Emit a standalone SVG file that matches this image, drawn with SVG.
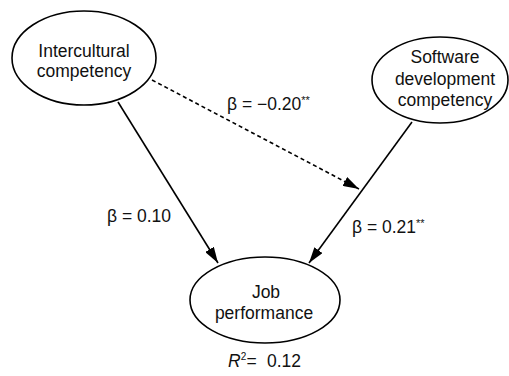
<svg xmlns="http://www.w3.org/2000/svg" width="509" height="376" viewBox="0 0 509 376">
  <defs>
    <marker id="arrow" viewBox="0 0 16 10" refX="16" refY="5" markerWidth="16" markerHeight="10" markerUnits="userSpaceOnUse" orient="auto">
      <path d="M0,0 L16,5 L0,10 Z" fill="#000"/>
    </marker>
    <style>
      .node ellipse { fill: #fff; stroke: #000; stroke-width: 1.6; }
      text { font-family: "Liberation Sans", Arial, sans-serif; font-size: 17.5px; fill: #111; }
      .c { text-anchor: middle; }
      .edge { stroke: #000; stroke-width: 1.6; fill: none; }
      .dash { stroke-dasharray: 4 3; }
    </style>
  </defs>

  <g id="connectors">
    <line class="edge" x1="118" y1="102" x2="218" y2="263" marker-end="url(#arrow)"/>
    <line class="edge" x1="412" y1="122" x2="309" y2="263" marker-end="url(#arrow)"/>
    <line class="edge dash" x1="152" y1="80" x2="359" y2="189" marker-end="url(#arrow)"/>
    <text x="227" y="110">β = −0.20<tspan font-size="11" dy="-6">**</tspan></text>
    <text x="107" y="222">β = 0.10</text>
    <text x="352" y="233">β = 0.21<tspan font-size="11" dy="-6">**</tspan></text>
  </g>

  <g id="intercultural" class="node">
    <ellipse cx="84" cy="58" rx="72" ry="47"/>
    <text class="c" x="84" y="57">Intercultural</text>
    <text class="c" x="84" y="77">competency</text>
  </g>

  <g id="software" class="node">
    <ellipse cx="440" cy="80" rx="68" ry="43"/>
    <text class="c" x="445" y="63">Software</text>
    <text class="c" x="445" y="85">development</text>
    <text class="c" x="445" y="106">competency</text>
  </g>

  <g id="job" class="node">
    <ellipse cx="265" cy="300" rx="75" ry="43"/>
    <text class="c" x="266" y="298">Job</text>
    <text class="c" x="264" y="319">performance</text>
  </g>

  <text x="228" y="367"><tspan font-style="italic">R</tspan><tspan font-size="10" dy="-7">2</tspan><tspan x="246.5" dy="7">=</tspan><tspan x="267">0.12</tspan></text>
</svg>
